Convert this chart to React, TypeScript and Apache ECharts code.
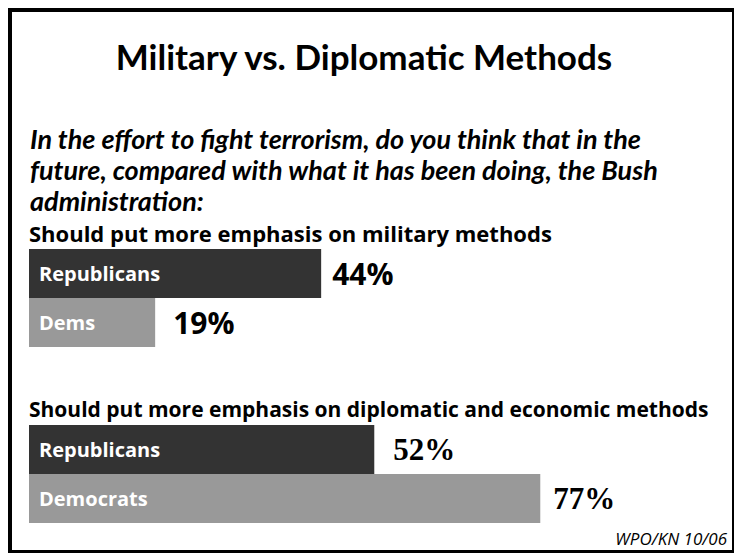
import React, { useEffect, useRef } from "react";
import * as echarts from "echarts";

const titleText = "Military vs. Diplomatic Methods";
const questionLines = [
  "In the effort to fight terrorism, do you think that in the",
  "future, compared with what it has been doing, the Bush",
  "administration:",
];
const militaryHeader = "Should put more emphasis on military methods";
const militaryCategories = ["Republicans", "Dems"];
const militaryValues = [44, 19];
const diplomaticHeader = "Should put more emphasis on diplomatic and economic methods";
const diplomaticCategories = ["Republicans", "Democrats"];
const diplomaticValues = [52, 77];
const sourceText = "WPO/KN 10/06";

const BAR_COLORS = ["#333333", "#999999"];

export default function App() {
  const ref = useRef<HTMLDivElement>(null);
  useEffect(() => {
    if (!ref.current) return;
    const chart = echarts.init(ref.current, undefined, { renderer: "svg" });
    const sans = "'Lato', sans-serif";
    const mkData = (vals: number[], gaps: number[]) =>
      vals.map((v, i) => ({
        value: v,
        itemStyle: { color: BAR_COLORS[i] },
        label: { distance: gaps[i] },
      }));
    const yAx = (gi: number, cats: string[]) => ({
      type: "category",
      gridIndex: gi,
      inverse: true,
      z: 10,
      data: cats,
      axisLine: { show: false },
      axisTick: { show: false },
      axisLabel: {
        inside: true,
        margin: 10,
        color: "#ffffff",
        fontFamily: "'Open Sans', sans-serif",
        fontWeight: "bold",
        fontSize: 20,
        padding: [6, 0, 0, 0],
      },
    });
    const xAx = (gi: number) => ({
      type: "value",
      gridIndex: gi,
      min: 0,
      max: 100,
      show: false,
    });
    chart.setOption({
      animation: false,
      backgroundColor: "#ffffff",
      grid: [
        { left: 29, top: 249, width: 664, height: 98 },
        { left: 29, top: 425, width: 664, height: 98 },
      ],
      xAxis: [xAx(0), xAx(1)],
      yAxis: [yAx(0, militaryCategories), yAx(1, diplomaticCategories)],
      series: [
        {
          type: "bar",
          xAxisIndex: 0,
          yAxisIndex: 0,
          barCategoryGap: "0%",
          data: mkData(militaryValues, [11, 18]),
          label: {
            show: true,
            position: "right",
            formatter: "{c}%",
            color: "#000000",
            fontFamily: "'Open Sans', sans-serif",
            fontWeight: "bold",
            fontSize: 30,
          },
        },
        {
          type: "bar",
          xAxisIndex: 1,
          yAxisIndex: 1,
          barCategoryGap: "0%",
          data: mkData(diplomaticValues, [19, 13]),
          label: {
            show: true,
            position: "right",
            formatter: "{c}%",
            color: "#000000",
            fontFamily: "'Liberation Serif', serif",
            fontWeight: "bold",
            fontSize: 31,
          },
        },
      ],
      graphic: [
        {
          type: "rect",
          shape: { x: 10, y: 10, width: 724, height: 542 },
          style: { fill: "none", stroke: "#000000", lineWidth: 4 },
        },
        {
          type: "text",
          x: 364,
          y: 56,
          style: {
            text: titleText,
            font: `bold 35px ${sans}`,
            fill: "#000000",
            textAlign: "center",
            textVerticalAlign: "middle",
          },
        },
        ...questionLines.map((t, i) => ({
          type: "text",
          x: 30,
          y: 138 + i * 31,
          style: {
            text: t,
            font: `italic bold 27px ${sans}`,
            fill: "#000000",
            textAlign: "left",
            textVerticalAlign: "middle",
          },
        })),
        {
          type: "text",
          x: 29,
          y: 233,
          style: {
            text: militaryHeader,
            font: "bold 22px 'Open Sans', sans-serif",
            fill: "#000000",
            textAlign: "left",
            textVerticalAlign: "middle",
          },
        },
        {
          type: "text",
          x: 29,
          y: 409,
          style: {
            text: diplomaticHeader,
            font: "bold 21px 'Open Sans', sans-serif",
            fill: "#000000",
            textAlign: "left",
            textVerticalAlign: "middle",
          },
        },
        {
          type: "text",
          x: 727,
          y: 538,
          style: {
            text: sourceText,
            font: "italic 17px 'Open Sans', sans-serif",
            fill: "#000000",
            textAlign: "right",
            textVerticalAlign: "middle",
          },
        },
      ],
    });
    return () => chart.dispose();
  }, []);
  return (
    <div
      ref={ref}
      style={{ position: "fixed", left: 0, top: 0, width: 734, height: 553, background: "#fff" }}
    />
  );
}
